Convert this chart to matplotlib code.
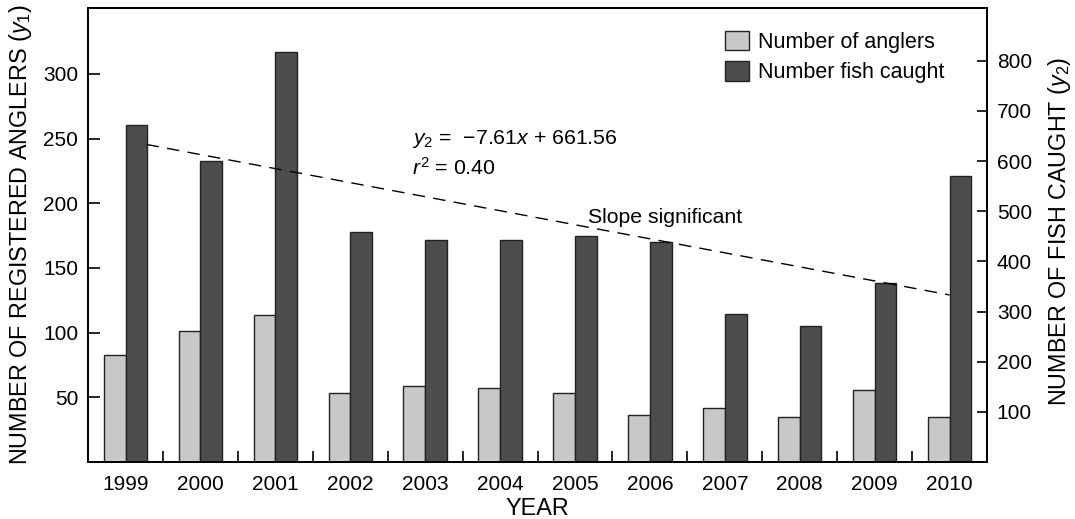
import matplotlib
matplotlib.use("Agg")
import matplotlib.pyplot as plt
import numpy as np
from matplotlib.patches import Patch

plt.rcParams["font.family"] = ["Liberation Sans", "DejaVu Sans"]
plt.rcParams["mathtext.fontset"] = "custom"
plt.rcParams["mathtext.rm"] = "Liberation Sans"
plt.rcParams["mathtext.it"] = "Liberation Sans:italic"

years = ["1999", "2000", "2001", "2002", "2003", "2004",
         "2005", "2006", "2007", "2008", "2009", "2010"]
anglers = [83, 101, 114, 53, 59, 57, 53, 36, 42, 35, 56, 35]
fish_caught = [671, 601, 818, 458, 442, 442, 450, 438, 295, 271, 357, 570]

# fitted trend for fish caught, drawn between its two end points
trend_x = [0.28, 11.0]
trend_y = [633, 333]

light = "#c8c8c8"
dark = "#4d4d4d"
fs = 15
fs_note = 15.3
fs_label = 16.8

fig = plt.figure(figsize=(10.75, 5.19), dpi=100)
ax = fig.add_axes([0.0819, 0.1098, 0.8363, 0.8748])
ax2 = ax.twinx()

x = np.arange(len(years))
w = 0.29
ax.bar(x - w / 2, anglers, width=w, color=light, edgecolor="#222222", linewidth=1.0)
ax2.bar(x + w / 2, fish_caught, width=w, color=dark, edgecolor="#222222", linewidth=1.0)
ax2.plot(trend_x, trend_y, color="black", linewidth=1.0, dashes=(9, 6))

ax.set_xlim(-0.5, len(years) - 0.5)
ax.set_ylim(0, 351)
ax2.set_ylim(0, 905)

# year labels at bar centres, boundary ticks between years
ax.set_xticks(x)
ax.set_xticklabels(years, fontsize=fs)
ax.tick_params(axis="x", which="major", length=0, pad=9)
ax.set_xticks(np.arange(-0.5, len(years)), minor=True)
ax.tick_params(axis="x", which="minor", direction="in", length=8, width=1.2)

ax.set_yticks([50, 100, 150, 200, 250, 300])
ax.tick_params(axis="y", direction="in", length=8.5, width=1.2, labelsize=fs, pad=7)
ax2.set_yticks([100, 200, 300, 400, 500, 600, 700, 800])
ax2.tick_params(axis="y", direction="in", length=7, width=1.2, labelsize=fs, pad=7)

for a in (ax, ax2):
    for s in a.spines.values():
        s.set_linewidth(1.3)

ax.set_ylabel(r"NUMBER OF REGISTERED ANGLERS ($y_1$)", fontsize=fs_label)
ax.yaxis.set_label_coords(-0.060, 0.502)
ax2.set_ylabel(r"NUMBER OF FISH CAUGHT ($y_2$)", fontsize=fs_label, rotation=90)
ax2.yaxis.set_label_coords(1.066, 0.507)
ax.set_xlabel("YEAR", fontsize=fs_label)
ax.xaxis.set_label_coords(0.5, -0.077)

ax2.text(0.360, 0.6998, r"$y_2$ =  −7.61$x$ + 661.56", transform=ax.transAxes,
         fontsize=fs_note, va="baseline")
ax2.text(0.360, 0.632, r"$r^2$ = 0.40", transform=ax.transAxes,
         fontsize=fs_note, va="baseline")
ax2.text(0.5562, 0.5258, "Slope significant", transform=ax.transAxes,
         fontsize=fs_note, va="baseline")

handles = [Patch(facecolor=light, edgecolor="#222222", linewidth=1.0),
           Patch(facecolor=dark, edgecolor="#222222", linewidth=1.0)]
ax2.legend(handles, ["Number of anglers", "Number fish caught"],
           loc="upper left", bbox_to_anchor=(0.7086, 0.95), frameon=False,
           fontsize=15.5, borderpad=0, borderaxespad=0,
           handlelength=1.1, handleheight=1.02, handletextpad=0.45,
           labelspacing=0.38)

fig.savefig("out.png", dpi=100)
